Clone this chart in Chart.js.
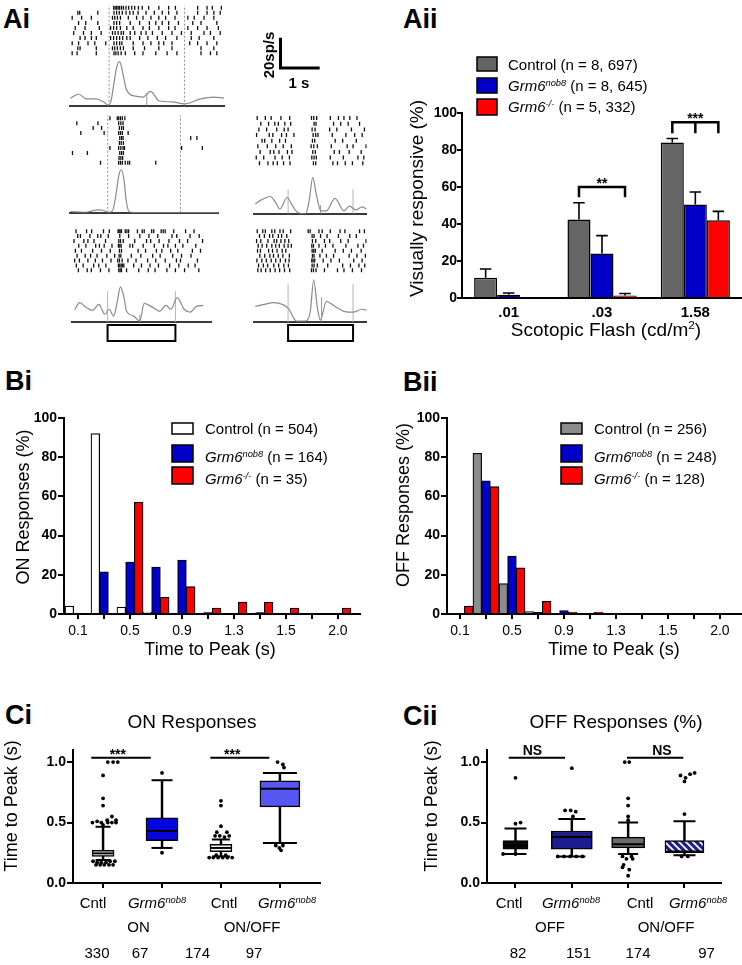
<!DOCTYPE html>
<html>
<head>
<meta charset="utf-8">
<title>Grm6 visual responses</title>
<script src="https://cdn.jsdelivr.net/npm/chart.js@4.4.1/dist/chart.umd.min.js"></script>
<style>
  html, body { margin: 0; padding: 0; background: #fff; }
  #fig { position: relative; width: 742px; height: 965px; overflow: hidden; background: #fff;
         font-family: "Liberation Sans", Arial, sans-serif; }
  .cell { position: absolute; }
  .panel { position: absolute; font-weight: bold; font-size: 27px; line-height: 27px; }
</style>
</head>
<body>
<div id="fig">
  <div class="panel" style="left:3px;top:6px">Ai</div>
  <div class="panel" style="left:403px;top:6px">Aii</div>
  <div class="panel" style="left:5px;top:368px">Bi</div>
  <div class="panel" style="left:403px;top:369px">Bii</div>
  <div class="panel" style="left:5px;top:702px">Ci</div>
  <div class="panel" style="left:403px;top:703px">Cii</div>
</div>
<script>
// ---------- Ai : example rasters (spike times in s) + PSTH (sp/s) ----------
const stim = [0, 2];          // light on / off
const scaleBar = [1, 20];     // 1 s, 20 sp/s

const rasterL1 = [
  [0.12,0.16,0.2,0.24,0.28,0.33,0.38,0.45,0.52,0.6,0.68,0.78,0.88,1.05,1.32,1.58,1.76,2.35,2.6,2.74,2.98],
  [-0.83,-0.78,-0.3,0.13,0.2,0.27,0.35,0.45,0.55,0.64,0.77,0.98,1.2,1.41,1.58,1.8,2.35,2.6,2.78,2.95],
  [-0.98,-0.73,-0.47,0.09,0.15,0.22,0.3,0.51,0.73,0.9,1.11,1.32,1.5,1.75,2.09,2.26,2.52,2.78],
  [-0.81,-0.62,-0.3,0.13,0.2,0.28,0.56,0.81,1.07,1.24,1.41,1.58,1.84,2.22,2.44,2.86],
  [-0.9,-0.64,-0.26,0.04,0.12,0.2,0.3,0.47,0.64,0.9,1.07,1.32,1.58,1.75,2.09,2.35,2.6,2.9],
  [-0.94,-0.68,-0.47,-0.21,0.09,0.16,0.24,0.32,0.38,0.56,0.68,0.85,0.98,1.15,1.41,1.67,1.92,2.18,2.52,2.69,2.95],
  [-0.77,-0.64,-0.47,-0.34,0.04,0.12,0.2,0.28,0.36,0.47,0.56,0.81,1.03,1.28,1.5,1.8,2.18,2.39,2.78],
  [-0.98,-0.81,-0.56,-0.38,-0.09,0.13,0.2,0.28,0.34,0.64,0.9,1.11,1.32,1.45,1.67,2.14,2.35,2.6,2.86],
  [-0.83,-0.77,-0.34,0.09,0.15,0.22,0.3,0.38,0.64,0.94,1.32,1.67,2.44,2.78],
  [-0.98,-0.85,-0.34,0.13,0.18,0.24,0.32,0.43,0.68,0.9,1.24,1.54,1.8,2.44,2.69,2.86]
];
const psthTL1 = [-1.03,-0.8,-0.6,-0.35,-0.15,-0.02,0.05,0.13,0.2,0.28,0.36,0.45,0.55,0.7,0.9,1.1,1.33,1.67,2.0,2.43,2.77,3.05];
const psthRL1 = [5.3,8,4.7,4.7,2.7,0.3,3.3,16,26.7,30.7,23.3,12,8,6.7,6,10,3.3,2.7,1.3,4.7,6,5.3];

const rasterL2 = [
  [0.06,0.26,0.3,0.35,0.4,0.47],
  [-0.85,-0.27,0.3,0.36,0.42],
  [-0.4,-0.17,0.32,0.38,0.43],
  [-0.74,-0.1,0.3,0.35,0.4,0.56],
  [0.33,0.38,0.42,2.28,2.45],
  [0.32,0.37,0.43],
  [0.06,0.3,0.36,0.42,0.46,2.03,2.6],
  [-0.97,-0.56,0.33,0.38,0.43],
  [0.31,0.36,0.41],
  [-0.2,0.3,0.35,0.4,0.48,0.55,0.6,1.32]
];
const psthTL2 = [-1.03,-0.64,-0.26,-0.13,0.03,0.13,0.23,0.31,0.37,0.44,0.51,0.59,0.77,1.5,3.05];
const psthRL2 = [0.7,0.3,2,1.7,0.3,1.3,13.3,26.7,30,24,8,0.7,0,0,0];

const rasterL3 = [
  [-0.93,-0.62,-0.47,-0.12,0.05,0.31,0.34,0.37,0.41,0.52,0.57,0.62,0.88,1.02,1.08,1.3,1.36,1.58,1.64,1.7,1.95,2.3,2.55],
  [-0.88,-0.8,-0.52,-0.29,-0.2,0.02,0.36,0.62,0.95,1.22,1.48,1.9,2.04,2.43,2.7],
  [-0.99,-0.7,-0.58,-0.4,-0.06,0.33,0.38,0.46,0.8,1.15,1.27,1.52,1.81,2.12,2.36,2.8],
  [-0.85,-0.64,-0.35,-0.24,-0.1,0.13,0.32,0.36,0.4,0.66,0.74,1.05,1.38,1.65,1.78,2.0,2.22,2.6],
  [-0.95,-0.77,-0.44,-0.18,0.08,0.35,0.41,0.9,1.12,1.44,1.6,1.86,2.07,2.5,2.74],
  [-0.9,-0.66,-0.5,-0.31,-0.02,0.21,0.34,0.39,0.7,0.98,1.33,1.55,1.92,2.18,2.46],
  [-0.97,-0.83,-0.58,-0.36,-0.15,0.1,0.3,0.35,0.43,0.6,0.84,1.18,1.42,1.7,2.03,2.15,2.65],
  [-0.92,-0.72,-0.41,-0.26,-0.05,0.32,0.36,0.4,0.44,0.48,0.77,1.0,1.25,1.5,1.83,2.1,2.38,2.58],
  [-0.86,-0.6,-0.48,-0.21,0.04,0.33,0.37,0.41,0.56,0.92,1.2,1.4,1.75,2.0,2.27,2.69]
];
const psthTL3 = [-0.97,-0.82,-0.64,-0.44,-0.26,-0.08,0.05,0.18,0.28,0.38,0.49,0.56,0.77,0.95,1.08,1.33,1.54,1.72,1.87,2.05,2.26,2.44,2.62,2.82];
const psthRL3 = [8.5,13.3,10,8,12,5.3,8.7,4,13.3,24,16,7.3,4,0.7,12.7,10,7.3,11.3,8.7,16.7,8.7,6.7,10.7,11.3];

const rasterR2 = [
  [-0.95,-0.7,-0.52,-0.22,0.05,0.72,0.79,0.88,1.3,1.55,1.72,1.9,2.12],
  [-0.84,-0.6,-0.41,-0.3,-0.1,0.08,0.8,0.86,1.4,1.62,1.85,2.2],
  [-0.9,-0.66,-0.35,-0.12,0.0,0.74,0.83,1.28,1.5,1.95,2.35],
  [-0.97,-0.58,-0.47,-0.2,-0.05,0.18,0.77,0.85,0.92,1.36,1.78,2.05,2.28],
  [-0.8,-0.72,-0.5,-0.26,-0.08,0.75,0.82,1.45,1.68,2.1],
  [-0.93,-0.64,-0.38,-0.15,0.1,0.71,0.79,0.9,1.33,1.82,2.0,2.4],
  [-0.86,-0.55,-0.44,-0.28,-0.02,0.12,0.76,0.84,1.42,1.58,1.88,2.25],
  [-0.98,-0.75,-0.4,-0.18,0.04,0.73,0.8,0.87,1.3,1.7,2.15,2.33],
  [-0.88,-0.62,-0.46,-0.33,-0.14,0.06,0.78,0.85,1.38,1.52,1.76,1.98,2.3]
];
const psthTR2 = [-1.01,-0.79,-0.54,-0.39,-0.25,-0.03,0.14,0.31,0.54,0.65,0.76,0.87,1.01,1.18,1.44,1.72,1.89,2.08,2.28,2.42];
const psthRR2 = [7,10,12,8,3.3,11.3,5.3,0.7,0,9.3,25.3,13.3,2,2,10.7,2,5.3,2.7,4.7,3.3];

const rasterR3 = [
  [-0.95,-0.78,-0.7,-0.5,-0.41,-0.25,-0.15,0.08,0.62,0.68,0.95,1.05,1.3,1.6,1.75,2.2,2.35],
  [-0.88,-0.73,-0.57,-0.47,-0.3,-0.2,-0.04,0.74,0.8,1.0,1.2,1.55,1.9,2.1],
  [-0.97,-0.84,-0.62,-0.43,-0.35,-0.22,-0.1,0.02,0.75,0.85,1.12,1.28,1.62,1.85,2.4],
  [-0.92,-0.8,-0.66,-0.5,-0.38,-0.27,-0.12,0.0,0.1,0.73,0.78,0.95,1.15,1.38,1.78,2.15,2.32],
  [-0.94,-0.85,-0.6,-0.48,-0.34,-0.18,-0.07,0.74,0.79,0.84,1.05,1.45,1.7,1.95,2.25],
  [-0.87,-0.72,-0.56,-0.45,-0.3,-0.16,0.04,0.75,0.8,0.98,1.18,1.4,1.88,2.12,2.38],
  [-0.96,-0.81,-0.67,-0.52,-0.38,-0.24,-0.08,0.03,0.73,0.77,0.82,1.08,1.32,1.58,2.02,2.28],
  [-0.91,-0.76,-0.63,-0.44,-0.29,-0.13,0.01,0.74,0.8,0.9,1.22,1.68,1.92,2.18,2.36],
  [-0.93,-0.83,-0.69,-0.55,-0.4,-0.26,-0.11,0.05,0.72,0.78,0.86,1.12,1.52,1.72,1.98,2.26]
];
const psthTR3 = [-1.01,-0.73,-0.45,-0.17,0.03,0.17,0.25,0.54,0.68,0.79,0.9,0.99,1.18,1.44,1.72,2.0,2.28,2.42];
const psthRR3 = [10.7,12,13.3,12,8.7,2.7,0.7,0.7,6.7,28.7,10,1.3,14,10.7,7.3,6.7,8.7,8];

// ---------- Aii : % visually responsive ----------
const flashLabels = ['.01', '.03', '1.58'];
const respControl = [11, 42.5, 84];
const respNob8 = [1.7, 24, 50.5];
const respKO = [0, 1.4, 42];
const semControl = [4.7, 9, 2.2];
const semNob8 = [1, 9.7, 6.8];
const semKO = [0, 1, 4.8];
const sigAii = [
  {cat: 1, from: 0, to: 2, top: 60, leg: 54.5, mid: false, label: '**'},
  {cat: 2, from: 0, to: 2, top: 95, leg: 89, mid: true, label: '***'}
];

// ---------- Bi / Bii : time-to-peak histograms (%) ----------
const binLabels = ['0.1', '', '0.5', '', '0.9', '', '1.3', '', '1.5', '', '2.0'];
const onControl = [4, 92, 3.5, 1, 0, 0, 0, 0, 0, 0, 0];
const onNob8 = [0, 21.5, 26.5, 24, 27.5, 0.7, 0, 0.7, 0, 0, 0];
const onKO = [0, 0, 57, 8.5, 14, 3, 6, 6, 3, 0, 3];
const offControl = [0.5, 82, 15.5, 1.2, 0.5, 0.5, 0, 0, 0, 0, 0];
const offNob8 = [0, 68, 29.5, 0.8, 1.8, 0, 0, 0, 0, 0, 0];
const offKO = [4, 65, 23.5, 6.5, 1, 1, 0, 0, 0, 0, 0];

// ---------- Ci / Cii : time to peak boxes [min, q1, median, q3, max] ----------
const boxCats = ['Cntl', 'Grm6nob8', 'Cntl', 'Grm6nob8'];
const onBoxes = [
  [0.19, 0.22, 0.245, 0.27, 0.465],
  [0.29, 0.35, 0.43, 0.54, 0.85],
  [0.22, 0.26, 0.29, 0.32, 0.36],
  [0.33, 0.63, 0.78, 0.845, 0.91]
];
const offBoxes = [
  [0.24, 0.28, 0.31, 0.35, 0.45],
  [0.22, 0.28, 0.38, 0.43, 0.53],
  [0.24, 0.29, 0.32, 0.38, 0.50],
  [0.23, 0.25, 0.26, 0.35, 0.51]
];
const onOutliers = [
  [1.08,1.0],[1.17,1.0],[1.25,1.0],[1.0,0.89],[1.0,0.70],[1.0,0.64],[1.15,0.55],[1.07,0.52],[1.22,0.52],
  [0.82,0.50],[0.9,0.51],[0.97,0.50],[1.08,0.50],[1.15,0.50],[1.22,0.50],[1.0,0.48],
  [0.83,0.18],[0.9,0.17],[0.97,0.17],[1.05,0.17],[1.12,0.18],[1.2,0.18],
  [0.88,0.15],[0.95,0.15],[1.02,0.15],[1.1,0.15],[1.17,0.15],
  [2.0,0.91],[2.0,0.25],
  [3.0,0.68],[3.0,0.64],[3.0,0.47],[2.93,0.42],[3.1,0.42],[2.9,0.39],[2.98,0.39],[3.06,0.38],[3.14,0.39],
  [2.8,0.21],[2.87,0.21],[2.95,0.21],[3.03,0.21],[3.11,0.21],[3.19,0.21],[2.92,0.23],[3.08,0.23],
  [3.96,1.0],[4.05,0.98],[4.07,0.955],[3.93,0.31],[4.05,0.31],[3.99,0.29],[4.02,0.27]
];
const offOutliers = [
  [1.0,0.87],[1.0,0.49],[1.09,0.50],[0.78,0.24],[1.0,0.24],
  [2.0,0.95],[1.88,0.60],[1.98,0.60],[2.07,0.59],[2.02,0.55],
  [1.75,0.22],[1.86,0.22],[1.97,0.22],[2.08,0.22],[2.19,0.22],
  [2.94,1.0],[3.02,1.0],[3.0,0.70],[3.0,0.64],[3.0,0.55],[3.0,0.52],
  [2.9,0.22],[3.06,0.22],[2.97,0.2],[3.08,0.2],[2.92,0.15],[2.9,0.13],[3.02,0.11],[3.0,0.06],
  [3.93,0.89],[4.02,0.87],[4.1,0.9],[4.18,0.91],[4.0,0.84],[4.0,0.57],[3.95,0.22],[4.06,0.22]
];
const onCounts = ['330', '67', '174', '97'];
const offCounts = ['82', '151', '174', '97'];
const sigOn = [{from: 0.8, to: 1.81, at: 1.25, y: 1.035, label: '***'},
               {from: 2.82, to: 3.82, at: 3.19, y: 1.035, label: '***'}];
const sigOff = [{from: 0.88, to: 1.88, at: 1.3, y: 1.035, label: 'NS'},
                {from: 2.98, to: 3.98, at: 3.6, y: 1.035, label: 'NS'}];

// ======================================================================
const FAM = "'Liberation Sans', Arial, sans-serif";
Chart.defaults.font.family = FAM;
Chart.defaults.color = '#000';
Chart.defaults.animation = false;
Chart.defaults.events = [];
Chart.defaults.plugins.legend.display = false;
Chart.defaults.plugins.tooltip.enabled = false;

const fig = document.getElementById('fig');
function place(left, top, w, h) {
  const d = document.createElement('div');
  d.className = 'cell';
  d.style.cssText = 'left:' + left + 'px;top:' + top + 'px;width:' + w + 'px;height:' + h + 'px';
  const c = document.createElement('canvas');
  d.appendChild(c);
  fig.appendChild(d);
  return c;
}
const fixW = w => s => { s.width = w; };
const fixH = h => s => { s.height = h; };

function fontFor(st, size) {
  const sup = st.includes('s');
  return (st.includes('i') ? 'italic ' : '') + (st.includes('b') ? 'bold ' : '') +
    (sup ? size * 0.62 : size) + 'px ' + FAM;
}
// rich text: parts = [[text, style]] style: '' normal, 'i' italic, 'b' bold, 's' superscript
function rich(ctx, x, y, parts, size, align, rot) {
  ctx.save();
  ctx.translate(x, y);
  if (rot) ctx.rotate(rot);
  ctx.fillStyle = '#000';
  ctx.textBaseline = 'alphabetic';
  ctx.textAlign = 'left';
  let w = 0;
  parts.forEach(([t, st]) => { ctx.font = fontFor(st, size); w += ctx.measureText(t).width; });
  let cx = align === 'center' ? -w / 2 : align === 'right' ? -w : 0;
  parts.forEach(([t, st]) => {
    ctx.font = fontFor(st, size);
    ctx.fillText(t, cx, st.includes('s') ? -size * 0.36 : 0);
    cx += ctx.measureText(t).width;
  });
  ctx.restore();
}
const NOB8 = [['Grm6', 'i'], ['nob8', 'is']];
const KO = [['Grm6', 'i'], ['-/-', 'is']];
const UP = -Math.PI / 2;

// page-coordinate drawing on top of a chart
function decor(left, top, fn) {
  return { id: 'decor', afterDraw(chart) {
    const c = chart.ctx; c.save(); c.translate(-left, -top); fn(c, chart); c.restore();
  }};
}
function legendBox(ctx, x, y, w, h, fill) {
  ctx.fillStyle = fill; ctx.fillRect(x, y, w, h);
  ctx.strokeStyle = '#000'; ctx.lineWidth = 1.5; ctx.strokeRect(x, y, w, h);
}

// ---------------- Ai rasters ----------------
function rasterChart(left, top, w, h, spikes, psthT, psthR, L) {
  const cv = place(left, top, w, h);
  const H = h - L.pt - L.pb;
  const pxPerRate = 1.5;
  const rowMin = 1 - L.rowTop / L.rowGap, rowMax = rowMin + H / L.rowGap;
  const pts = [];
  spikes.forEach((row, i) => row.forEach(t => pts.push({x: t, y: i + 1})));
  const lineStyle = L.dash ? {borderColor: '#8d8d8d', borderDash: [2, 2], borderWidth: 1}
                           : {borderColor: '#b5b5b5', borderWidth: 1};
  const datasets = [
    {type: 'scatter', yAxisID: 'yT', data: pts, pointStyle: 'line', pointRotation: 90, pointRadius: 2.0,
     borderColor: '#111', borderWidth: 1.3, order: 0},
    {type: 'line', yAxisID: 'yP', data: psthT.map((t, i) => ({x: t, y: psthR[i]})),
     borderColor: '#8a8a8a', borderWidth: 1.2, pointRadius: 0, cubicInterpolationMode: 'monotone', order: 1}
  ];
  stim.forEach(s => datasets.push(Object.assign({type: 'line', yAxisID: 'yP', pointRadius: 0, order: 2,
    data: [{x: s, y: 0}, {x: s, y: L.stimTop}]}, lineStyle)));
  if (L.markT !== undefined) datasets.push({type: 'line', yAxisID: 'yP', pointRadius: 0, order: 2,
    borderColor: '#9a9a9a', borderWidth: 1, data: [{x: L.markT, y: 0}, {x: L.markT, y: L.markR}]});
  const plugins = [];
  if (L.box) plugins.push({ id: 'stimBox', afterDraw(chart) {
    const {ctx, chartArea, scales: {x}} = chart;
    const x0 = x.getPixelForValue(stim[0]), x1 = x.getPixelForValue(stim[1]);
    ctx.save(); ctx.strokeStyle = '#000'; ctx.lineWidth = 2;
    ctx.strokeRect(x0, chartArea.bottom + 3, x1 - x0, 16);
    ctx.restore();
  }});
  if (L.extra) plugins.push(L.extra);
  return new Chart(cv, {
    type: 'scatter',
    data: {datasets},
    options: {
      responsive: true, maintainAspectRatio: false,
      layout: {padding: {top: L.pt, bottom: L.pb, left: 0, right: L.pr || 0}},
      scales: {
        x: {type: 'linear', min: L.tMin, max: L.tMax, ticks: {display: false},
            grid: {display: false, drawTicks: false}, border: {display: true, color: '#3a3a3a', width: 2},
            afterFit: fixH(0)},
        y: {display: false},
        yP: {type: 'linear', display: false, min: 0, max: H / pxPerRate},
        yT: {type: 'linear', display: false, min: rowMin, max: rowMax, reverse: true}
      }
    },
    plugins
  });
}

const scaleBarPlugin = { id: 'scaleBar', afterDraw(chart) {
  const {ctx, scales: {x, yP}} = chart;
  const lenX = x.getPixelForValue(scaleBar[0]) - x.getPixelForValue(0);
  const lenY = yP.getPixelForValue(0) - yP.getPixelForValue(scaleBar[1]);
  const ax = 280.5 - 65, ay = 68;
  ctx.save();
  ctx.strokeStyle = '#000'; ctx.lineWidth = 3; ctx.lineCap = 'square';
  ctx.beginPath(); ctx.moveTo(ax, ay - lenY); ctx.lineTo(ax, ay); ctx.lineTo(ax + lenX, ay); ctx.stroke();
  rich(ctx, 274 - 65, 55, [[scaleBar[1] + 'sp/s', 'b']], 15, 'center', UP);
  rich(ctx, 299 - 65, 88, [[scaleBar[0] + ' s', 'b']], 15, 'center');
  ctx.restore();
}};

rasterChart(65, 0, 265, 111, rasterL1, psthTL1, psthRL1,
  {pt: 3, pb: 3, pr: 106, tMin: -1.03, tMax: 3.05, rowTop: 2.5, rowGap: 5.3, stimTop: 70, dash: true,
   markT: 1.0, markR: 9, extra: scaleBarPlugin});
rasterChart(65, 110, 159, 108, rasterL2, psthTL2, psthRL2,
  {pt: 3, pb: 3, tMin: -1.03, tMax: 3.05, rowTop: 3, rowGap: 5.2, stimTop: 68, dash: true});
rasterChart(67, 223, 150, 122, rasterL3, psthTL3, psthRL3,
  {pt: 3, pb: 23, tMin: -1.04, tMax: 3.07, rowTop: 3, rowGap: 5.0, stimTop: 21, dash: false,
   markT: 0.95, markR: 5, box: true});
rasterChart(249, 109, 123, 110, rasterR2, psthTR2, psthRR2,
  {pt: 3, pb: 3, tMin: -1.04, tMax: 2.42, rowTop: 4, rowGap: 5.9, stimTop: 17, dash: false,
   markT: 1.0, markR: 6});
rasterChart(249, 223, 123, 122, rasterR3, psthTR3, psthRR3,
  {pt: 3, pb: 23, tMin: -1.04, tMax: 2.42, rowTop: 3, rowGap: 5.0, stimTop: 26, dash: false,
   markT: 1.03, markR: 17, box: true});

// ---------------- Aii ----------------
function errorBars(sems) {
  return { id: 'errBars', afterDatasetsDraw(chart) {
    const ctx = chart.ctx, y = chart.scales.y;
    ctx.save(); ctx.strokeStyle = '#000'; ctx.lineWidth = 1.6;
    sems.forEach((arr, di) => {
      chart.getDatasetMeta(di).data.forEach((bar, i) => {
        if (!arr[i]) return;
        const v = chart.data.datasets[di].data[i];
        const yt = y.getPixelForValue(v + arr[i]);
        const hw = bar.width * 0.25;
        ctx.beginPath(); ctx.moveTo(bar.x, bar.y); ctx.lineTo(bar.x, yt);
        ctx.moveTo(bar.x - hw, yt); ctx.lineTo(bar.x + hw, yt); ctx.stroke();
      });
    });
    ctx.restore();
  }};
}
const bracketPlugin = { id: 'brackets', afterDraw(chart) {
  const ctx = chart.ctx, y = chart.scales.y;
  ctx.save(); ctx.strokeStyle = '#000'; ctx.lineWidth = 2.5;
  sigAii.forEach(s => {
    const xa = chart.getDatasetMeta(s.from).data[s.cat].x;
    const xb = chart.getDatasetMeta(s.to).data[s.cat].x;
    const yt = y.getPixelForValue(s.top), yl = y.getPixelForValue(s.leg);
    ctx.beginPath(); ctx.moveTo(xa, yl); ctx.lineTo(xa, yt); ctx.lineTo(xb, yt); ctx.lineTo(xb, yl);
    if (s.mid) { const xm = chart.getDatasetMeta(1).data[s.cat].x; ctx.moveTo(xm, yt); ctx.lineTo(xm, yl); }
    ctx.stroke();
    rich(ctx, (xa + xb) / 2, yt + 1, [[s.label, 'b']], 14, 'center');
  });
  ctx.restore();
}};
new Chart(place(400, 40, 342, 300), {
  type: 'bar',
  data: {
    labels: flashLabels,
    datasets: [
      {data: respControl, backgroundColor: '#656565'},
      {data: respNob8, backgroundColor: '#0000c8'},
      {data: respKO, backgroundColor: '#ff0000'}
    ].map(d => Object.assign(d, {borderColor: '#000', borderWidth: 1.5, categoryPercentage: 0.74, barPercentage: 1}))
  },
  options: {
    responsive: true, maintainAspectRatio: false,
    layout: {padding: {top: 73, left: 0, right: 0, bottom: 0}},
    scales: {
      x: {grid: {display: false, drawTicks: false}, border: {color: '#000', width: 2},
          ticks: {font: {size: 15, weight: 'bold'}, padding: 6}, afterFit: fixH(42)},
      y: {min: 0, max: 100, ticks: {stepSize: 20, font: {size: 14, weight: 'bold'}, padding: 0},
          grid: {drawOnChartArea: false, tickLength: 5, color: '#000', lineWidth: 2},
          border: {color: '#000', width: 2}, afterFit: fixW(62)}
    }
  },
  plugins: [errorBars([semControl, semNob8, semKO]), bracketPlugin, decor(400, 40, ctx => {
    legendBox(ctx, 477, 57, 20, 14, '#656565');
    legendBox(ctx, 477, 78, 20, 15, '#0000c8');
    legendBox(ctx, 477, 99, 20, 16, '#ff0000');
    rich(ctx, 508, 70, [['Control (n = 8, 697)', '']], 15);
    rich(ctx, 508, 91, NOB8.concat([[' (n = 8, 645)', '']]), 15);
    rich(ctx, 508, 112, KO.concat([[' (n = 5, 332)', '']]), 15);
    rich(ctx, 606, 336, [['Scotopic Flash (cd/m', ''], ['2', 's'], [')', '']], 19, 'center');
    rich(ctx, 423, 198.5, [['Visually responsive (%)', '']], 19, 'center', UP);
  })]
});

// ---------------- Bi / Bii ----------------
function histChart(left, top, w, h, series, colors, L, legendFn) {
  return new Chart(place(left, top, w, h), {
    type: 'bar',
    data: {
      datasets: series.map((s, k) => ({
        data: s.map((v, i) => ({x: i, y: v})), backgroundColor: colors[k],
        borderColor: '#000', borderWidth: 1.2, barThickness: 8.7
      }))
    },
    options: {
      responsive: true, maintainAspectRatio: false,
      layout: {padding: {top: L.pt, right: L.pr, left: 0, bottom: 0}},
      scales: {
        x: {type: 'linear', offset: false, min: L.xMin, max: L.xMax,
            afterBuildTicks: s => { s.ticks = binLabels.map((_, i) => ({value: i})); },
            ticks: {autoSkip: false, maxRotation: 0, font: {size: 14}, padding: 4, callback: v => binLabels[v]},
            grid: {offset: false, drawOnChartArea: false, tickLength: 5, color: '#000', lineWidth: 2},
            border: {color: '#000', width: 2}, afterFit: fixH(L.xH)},
        y: {min: 0, max: 100, ticks: {stepSize: 20, font: {size: 14, weight: 'bold'}, padding: 1},
            grid: {drawOnChartArea: false, tickLength: 6, color: '#000', lineWidth: 2},
            border: {color: '#000', width: 2}, afterFit: fixW(L.yW)}
      }
    },
    plugins: [decor(left, top, legendFn)]
  });
}
histChart(0, 380, 372, 285, [onControl, onNob8, onKO], ['#ffffff', '#0000cc', '#ff0000'],
  {pt: 38, pr: 12, xMin: -0.54, xMax: 10.85, xH: 51, yW: 64}, ctx => {
    legendBox(ctx, 172, 423, 21, 11, '#ffffff');
    legendBox(ctx, 172, 445, 21, 17, '#0000cc');
    legendBox(ctx, 172, 467, 21, 17, '#ff0000');
    rich(ctx, 205, 434, [['Control (n = 504)', '']], 15);
    rich(ctx, 205, 462, NOB8.concat([[' (n = 164)', '']]), 15);
    rich(ctx, 205, 484, KO.concat([[' (n = 35)', '']]), 15);
    rich(ctx, 210, 655, [['Time to Peak (s)', '']], 18, 'center');
    rich(ctx, 29, 507, [['ON Responses (%)', '']], 18, 'center', UP);
  });
histChart(380, 380, 362, 285, [offControl, offNob8, offKO], ['#8c8c8c', '#0000cc', '#ff0000'],
  {pt: 38, pr: 0, xMin: -0.5, xMax: 10.85, xH: 51, yW: 67}, ctx => {
    legendBox(ctx, 561, 423, 21, 11, '#8c8c8c');
    legendBox(ctx, 561, 445, 21, 17, '#0000cc');
    legendBox(ctx, 561, 467, 21, 17, '#ff0000');
    rich(ctx, 594, 434, [['Control (n = 256)', '']], 15);
    rich(ctx, 594, 462, NOB8.concat([[' (n = 248)', '']]), 15);
    rich(ctx, 594, 484, KO.concat([[' (n = 128)', '']]), 15);
    rich(ctx, 614, 655, [['Time to Peak (s)', '']], 18, 'center');
    rich(ctx, 409, 505, [['OFF Responses (%)', '']], 18, 'center', UP);
  });

// ---------------- Ci / Cii ----------------
function hatch() {
  const c = document.createElement('canvas'); c.width = 7; c.height = 7;
  const g = c.getContext('2d');
  g.fillStyle = '#20208c'; g.fillRect(0, 0, 7, 7);
  g.strokeStyle = '#ffffff'; g.lineWidth = 1.7;
  g.beginPath(); g.moveTo(-1, -1); g.lineTo(8, 8); g.moveTo(-1, 6); g.lineTo(1, 8); g.moveTo(6, -1); g.lineTo(8, 1);
  g.stroke();
  return g.createPattern(c, 'repeat');
}
function sigLines(list) {
  return { id: 'sig', afterDraw(chart) {
    const {ctx, scales: {x, y}} = chart;
    ctx.save(); ctx.strokeStyle = '#000'; ctx.lineWidth = 2;
    list.forEach(s => {
      const yy = y.getPixelForValue(s.y);
      ctx.beginPath(); ctx.moveTo(x.getPixelForValue(s.from), yy); ctx.lineTo(x.getPixelForValue(s.to), yy); ctx.stroke();
      rich(ctx, x.getPixelForValue(s.at), yy + (s.label === 'NS' ? -3 : 1), [[s.label, 'b']], 14, 'center');
    });
    ctx.restore();
  }};
}
function boxChart(left, top, w, h, boxes, outliers, L, colors, widths, caps, sig, decoFn) {
  const datasets = [];
  datasets.push({type: 'bar', order: 4, grouped: false, barThickness: 1.8, backgroundColor: '#000', borderWidth: 0,
    data: boxes.flatMap((b, i) => [{x: i + 1, y: [b[0], b[1]]}, {x: i + 1, y: [b[3], b[4]]}])});
  boxes.forEach((b, i) => datasets.push({type: 'bar', order: 3, grouped: false, barThickness: widths[i],
    backgroundColor: colors[i], borderColor: '#000', borderWidth: 1.5, borderSkipped: false,
    data: [{x: i + 1, y: [b[1], b[3]]}]}));
  datasets.push({type: 'scatter', order: 1, pointStyle: 'line', pointRadius: widths.map(v => v / 2 - 1),
    borderColor: '#000', borderWidth: 2, data: boxes.map((b, i) => ({x: i + 1, y: b[2]}))});
  datasets.push({type: 'scatter', order: 2, pointStyle: 'line', pointRadius: caps.flatMap(c => [c / 2, c / 2]),
    borderColor: '#000', borderWidth: 2, data: boxes.flatMap((b, i) => [{x: i + 1, y: b[0]}, {x: i + 1, y: b[4]}])});
  datasets.push({type: 'scatter', order: 0, pointStyle: 'circle', pointRadius: 1.9, backgroundColor: '#000',
    borderWidth: 0, data: outliers.map(([x, y]) => ({x, y}))});
  return new Chart(place(left, top, w, h), {
    type: 'bar',
    data: {datasets},
    options: {
      responsive: true, maintainAspectRatio: false,
      layout: {padding: {top: L.pt, right: L.pr, left: 0, bottom: 0}},
      scales: {
        x: {type: 'linear', offset: false, min: L.xMin, max: L.xMax,
            afterBuildTicks: s => { s.ticks = boxCats.map((_, i) => ({value: i + 1})); },
            ticks: {display: false},
            grid: {offset: false, drawOnChartArea: false, tickLength: 5, color: '#000', lineWidth: 2},
            border: {color: '#000', width: 2}, afterFit: fixH(L.xH)},
        y: {min: 0, max: 1.1, afterBuildTicks: s => { s.ticks = [0, 0.5, 1].map(v => ({value: v})); },
            ticks: {font: {size: 14, weight: 'bold'}, padding: 1, callback: v => v.toFixed(1)},
            grid: {drawOnChartArea: false, tickLength: 6, color: '#000', lineWidth: 2},
            border: {color: '#000', width: 2}, afterFit: fixW(L.yW)}
      }
    },
    plugins: [sigLines(sig), decor(left, top, decoFn)]
  });
}
function catLabels(ctx, xs, groupXs, groupNames, countXs, counts) {
  boxCats.forEach((c, i) => rich(ctx, xs[i], 908, c === 'Cntl' ? [['Cntl', '']] : NOB8, 15, 'center'));
  groupNames.forEach((g, i) => rich(ctx, groupXs[i], 932, [[g, '']], 15, 'center'));
  counts.forEach((n, i) => rich(ctx, countXs[i], 958, [[n, '']], 15, 'center'));
}
boxChart(0, 690, 372, 275, onBoxes, onOutliers,
  {pt: 60, pr: 52, xMin: 0.49, xMax: 4.68, xH: 82, yW: 73},
  ['#ffffff', '#0505e0', '#ffffff', '#5656f2'], [22, 32, 22, 40], [15, 21, 18, 34], sigOn, ctx => {
    rich(ctx, 192, 728, [['ON Responses', '']], 19, 'center');
    rich(ctx, 17, 806, [['Time to Peak (s)', '']], 18, 'center', UP);
    catLabels(ctx, [93, 157, 224, 287], [138.5, 252], ['ON', 'ON/OFF'], [97, 140, 197.5, 254], onCounts);
  });
boxChart(380, 690, 362, 275, offBoxes, offOutliers,
  {pt: 60, pr: 9, xMin: 0.494, xMax: 4.64, xH: 82, yW: 107},
  ['#0a0a0a', '#1c1c8e', '#6b6b6b', hatch()], [25, 41, 33, 39], [22, 27, 20, 22], sigOff, ctx => {
    rich(ctx, 616, 728, [['OFF Responses (%)', '']], 19, 'center');
    rich(ctx, 437, 806, [['Time to Peak (s)', '']], 18, 'center', UP);
    catLabels(ctx, [509, 571, 640, 698], [550, 666], ['OFF', 'ON/OFF'], [518, 578.5, 638, 706.5], offCounts);
  });
</script>
</body>
</html>
